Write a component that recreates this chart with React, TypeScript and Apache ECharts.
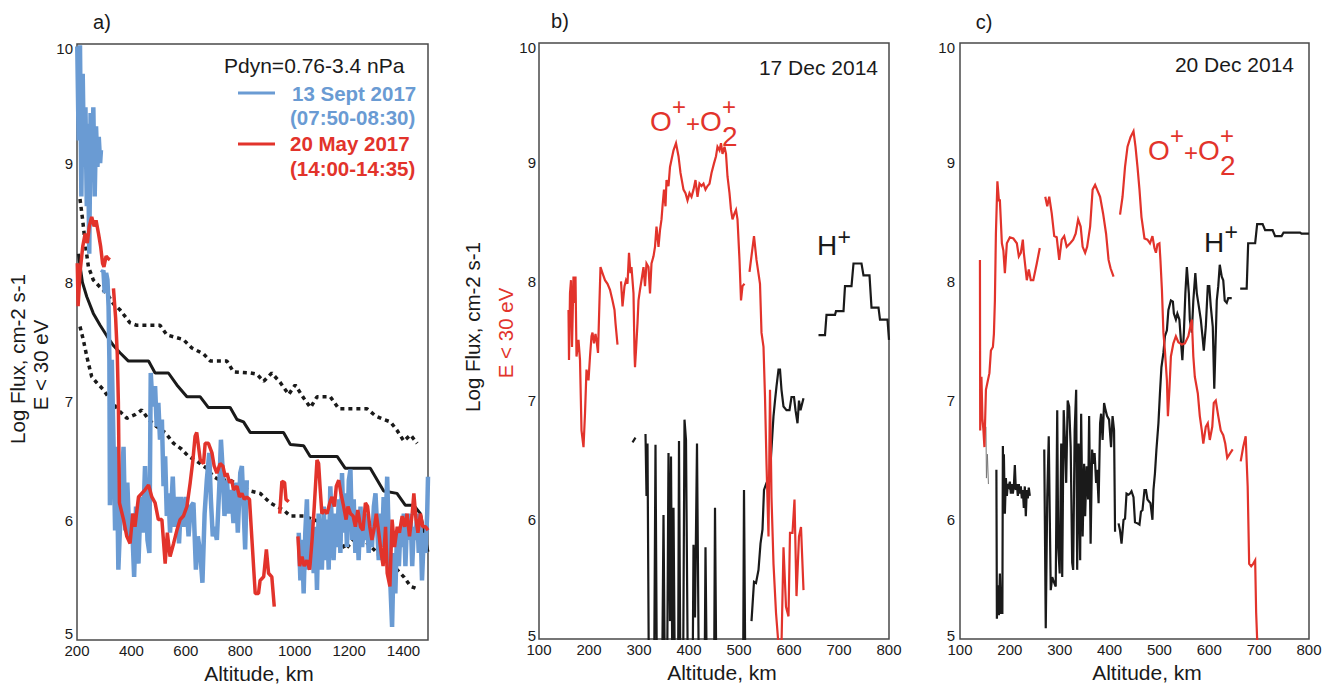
import React, { useEffect, useRef } from 'react';
import * as echarts from 'echarts';

const FONT = '"Liberation Sans", Arial, Helvetica, sans-serif';
const RED = '#e2332b';
const BLUE = '#6a9bd3';
const INK = '#1a1a1a';
const FRAME = '#4a4a4a';

// ---------- Panel a (13 Sept 2017 / 20 May 2017, statistics) ----------
const medianA = [[205,8.24],[220,8.0],[236,7.88],[260,7.74],[285,7.64],[310,7.55],[334,7.47],[358,7.41],[389,7.34],[463,7.34],[487,7.24],[536,7.24],[567,7.14],[604,7.04],[653,7.04],[683,6.95],[763,6.95],[788,6.85],[812,6.83],[837,6.74],[959,6.74],[984,6.64],[1033,6.63],[1057,6.54],[1156,6.54],[1186,6.44],[1278,6.44],[1327,6.25],[1376,6.23],[1407,6.13],[1438,6.13],[1462,6.06],[1490,5.74]];

const upperA = [[211,8.70],[221,8.52],[230,8.33],[242,8.13],[260,8.02],[285,7.96],[309,7.91],[334,7.82],[358,7.77],[395,7.66],[420,7.64],[505,7.64],[530,7.56],[591,7.52],[622,7.45],[665,7.40],[690,7.34],[751,7.34],[775,7.25],[837,7.24],[861,7.23],[886,7.17],[916,7.24],[947,7.16],[978,7.06],[1002,7.14],[1033,7.03],[1058,6.95],[1082,7.04],[1131,7.04],[1162,6.94],[1266,6.94],[1297,6.88],[1327,6.85],[1352,6.83],[1376,6.76],[1401,6.67],[1426,6.72],[1450,6.65]];

const lowerA = [[211,7.63],[223,7.52],[236,7.38],[242,7.32],[254,7.21],[272,7.16],[297,7.10],[321,7.02],[352,6.93],[383,6.86],[413,6.89],[438,6.93],[463,6.85],[493,6.79],[524,6.74],[555,6.65],[585,6.60],[610,6.54],[640,6.50],[677,6.44],[702,6.37],[726,6.34],[763,6.34],[800,6.29],[837,6.25],[873,6.23],[910,6.15],[959,6.09],[984,6.04],[1033,6.04],[1082,6.0],[1143,5.95],[1186,5.76],[1217,5.84],[1254,5.84],[1291,5.76],[1327,5.67],[1364,5.62],[1401,5.53],[1426,5.45],[1450,5.43]];

const sept13A = [[201,9.98],[206,9.19],[211,9.99],[216,8.72],[221,9.75],[226,8.97],[231,9.47],[236,8.64],[240,9.33],[245,8.24],[250,9.42],[255,8.86],[260,9.47],[265,8.72],[270,9.31],[275,8.97],[280,9.22],[285,9.00],[288,9.11],
[289,null],
[291,8.08],[297,8.10],[302,7.91],[307,8.08],[312,8.02],[316,7.80],[319,7.35],[321,6.13],[328,7.35],[334,6.68],[340,5.92],[346,6.62],[352,5.59],[361,6.12],[371,6.62],[377,5.92],[385,6.32],[393,5.84],[401,6.06],[410,5.53],[417,6.12],[426,5.64],[434,6.20],[442,5.90],[450,6.46],[459,5.84],[466,5.73],[471,7.24],[478,6.96],[487,7.13],[493,6.79],[499,6.99],[505,6.68],[512,6.85],[518,6.29],[524,6.54],[530,6.04],[536,6.23],[542,5.90],[552,6.37],[559,5.95],[567,6.20],[575,5.81],[583,6.20],[591,5.95],[601,6.20],[610,5.87],[618,6.12],[628,6.15],[637,5.59],[644,5.87],[653,5.73],[661,5.48],[669,6.06],[677,6.34],[686,6.57],[692,6.18],[699,5.87],[705,5.95],[714,5.84],[723,6.29],[729,6.68],[736,6.40],[742,6.04],[751,6.34],[759,6.06],[767,6.26],[775,5.98],[784,6.32],[791,5.90],[800,6.40],[806,6.46],[812,6.12],[818,5.76],[824,6.34],
[900,null],
[1015,5.90],[1021,5.50],[1027,5.84],[1033,5.39],[1039,5.90],[1045,6.18],[1051,5.59],[1058,6.01],[1064,5.84],[1070,5.56],[1076,5.95],[1082,5.42],[1088,6.06],[1094,5.78],[1100,5.59],[1107,6.12],[1113,5.67],[1119,6.01],[1125,5.59],[1131,6.29],[1137,5.95],[1143,5.67],[1150,6.06],[1156,5.78],[1162,6.18],[1168,5.73],[1174,6.40],[1180,5.90],[1186,6.23],[1192,5.78],[1199,6.34],[1205,6.43],[1211,5.84],[1217,6.18],[1223,5.73],[1229,6.04],[1235,5.67],[1242,6.12],[1248,5.78],[1254,5.95],[1260,5.84],[1266,6.06],[1272,5.73],[1278,5.95],[1284,5.78],[1291,6.12],[1297,6.23],[1303,5.95],[1309,5.67],[1315,6.06],[1321,5.78],[1327,6.20],[1334,5.95],[1340,6.37],[1346,5.84],[1352,5.45],[1358,5.11],[1364,5.73],[1370,5.39],[1376,5.90],[1383,5.62],[1389,5.95],[1395,5.78],[1401,6.06],[1407,5.62],[1413,6.01],[1419,5.84],[1426,6.06],[1432,5.62],[1438,5.95],[1444,5.84],[1450,6.06],[1456,5.73],[1462,6.01],[1468,5.50],[1475,5.90],[1481,5.73],[1487,6.06],[1490,6.37]];

const may20A = [[201,8.16],[204,7.80],[211,8.08],[221,8.30],[230,8.41],[238,8.33],[245,8.47],[254,8.55],[263,8.47],[270,8.52],[279,8.41],[287,8.30],[294,8.16],[299,8.13],[307,8.22],[315,8.20],[321,8.19],
[327,null],
[334,7.95],[342,7.70],[348,7.40],[352,7.00],[356,6.15],[371,6.01],[383,5.87],[395,5.81],[405,6.06],[413,5.95],[426,6.20],[438,6.23],[450,6.26],[463,6.30],[475,6.20],[487,6.15],[499,6.01],[512,6.01],[524,5.64],[532,5.90],[542,5.70],[555,5.81],[567,5.92],[579,6.01],[591,6.04],[604,6.12],[616,6.32],[626,6.51],[634,6.71],[640,6.74],[653,6.51],[665,6.48],[671,6.65],[683,6.65],[696,6.57],[704,6.46],[714,6.40],[726,6.48],[736,6.46],[745,6.37],[751,6.40],[761,6.32],[769,6.34],[775,6.26],[788,6.29],[797,6.20],[806,6.23],[815,6.18],[824,6.20],[834,6.18],[843,5.84],[855,5.39],[867,5.39],[873,5.50],[886,5.53],[896,5.76],[904,5.56],[916,5.53],[925,5.28],
[935,null],
[945,6.06],[953,6.33],[963,6.32],[968,6.18],[978,6.16],
[995,null],
[1012,5.87],[1018,5.62],[1027,5.70],[1035,5.62],[1045,5.67],[1055,5.59],[1064,5.84],[1072,6.12],[1082,6.51],[1088,6.48],[1094,6.26],[1100,6.06],[1109,6.09],[1119,6.06],[1129,6.15],[1137,6.20],[1146,6.12],[1153,6.29],[1162,6.34],[1170,6.23],[1180,6.12],[1189,6.01],[1196,6.12],[1205,6.06],[1215,6.04],[1223,5.95],[1232,6.09],[1242,5.95],[1251,5.92],[1260,6.15],[1268,6.12],[1276,5.95],[1284,5.84],[1293,5.95],[1300,6.06],[1309,5.90],[1318,5.73],[1325,5.62],[1334,5.95],[1340,5.56],[1350,5.45],[1358,6.01],[1367,5.78],[1377,5.95],[1385,5.90],[1395,6.04],[1404,5.95],[1413,6.06],[1422,5.87],[1432,6.06],[1438,6.23],[1446,6.01],[1453,5.90],[1462,6.06],[1471,5.95],[1481,5.95],[1490,5.92]];

// ---------- Panel b (17 Dec 2014) ----------
const oxygenB = [[159,7.76],[160,7.34],[162,7.90],[164,8.01],[166,7.45],[169,8.04],[171,7.82],[173,8.04],[175,7.37],[179,7.51],[182,7.34],[185,6.75],[189,6.61],[192,6.89],[195,7.26],[199,7.17],[202,7.37],[205,7.54],[207,7.57],[210,7.48],[213,7.56],[215,7.51],[218,7.40],[221,7.84],[223,8.12],[227,8.07],[232,8.01],[237,7.98],[242,7.93],[247,7.84],[251,7.76],[253,7.65],[257,7.47],
[260,null],
[264,8.00],[267,7.79],[271,7.96],[274,8.01],[277,7.98],[280,8.24],[283,8.07],[285,8.12],[289,7.90],[291,7.40],[292,7.28],[294,7.42],[297,7.65],[299,7.84],[302,7.93],[305,8.01],[309,8.12],[312,7.96],[315,8.15],[319,8.12],[322,7.90],[325,8.15],[329,8.21],[332,8.29],[335,8.46],[339,8.29],[342,8.43],[345,8.52],[347,8.63],[350,8.77],[353,8.63],[355,8.85],[359,8.80],[362,8.96],[365,9.02],[369,9.10],[374,9.16],[379,9.05],[383,8.91],[389,8.77],[393,8.74],[397,8.68],[401,8.74],[405,8.71],[409,8.77],[413,8.85],[417,8.71],[421,8.82],[425,8.80],[429,8.82],[433,8.77],[437,8.80],[441,8.82],[445,8.91],[450,8.99],[454,9.05],[457,9.13],[461,9.10],[464,9.16],[467,9.07],[471,9.13],[474,9.07],[477,8.88],[481,8.74],[484,8.60],[487,8.52],[491,8.57],[494,8.60],[497,8.52],[501,8.18],[504,7.84],[507,7.96],[511,7.98],
[516,null],
[521,8.08],[530,8.38],[535,8.18],[542,7.98],[545,7.57],[549,7.45],[552,7.03],[555,6.47],[559,5.86],[562,7.09],[565,6.19],[569,5.63],[574,5.22],[579,4.95],[585,4.95],[589,5.77],[594,5.27],[599,5.19],[602,5.89],[607,5.89],[611,6.17],[615,5.36],[620,5.86],[624,5.94],[629,5.41]];

const hydrogenB = [[287,6.65],[293,6.69],
[300,null],
[313,6.72],[315,6.20],[317,6.64],[320,4.5],[330,4.5],[333,6.63],[336,4.5],[346,4.5],[349,6.04],[352,4.5],[356,4.5],[359,6.56],[362,5.15],[364,6.53],[367,4.5],[368,4.5],[369,6.10],[372,4.5],[378,4.5],[380,6.66],[383,4.5],[388,4.5],[391,6.84],[394,6.67],[398,4.5],[407,4.5],[409,5.79],[412,5.18],[416,6.64],[420,4.5],[431,4.5],[433,5.77],[436,4.5],[450,4.5],[452,6.10],[455,4.5],[508,4.5],[510,6.25],[513,4.5],
[518,null],
[525,5.15],[530,5.48],[534,5.47],[539,5.58],[543,5.80],[547,5.92],[550,6.25],[555,6.31],[561,6.36],[564,6.53],[569,6.87],[572,7.00],[575,7.12],[579,7.26],[582,7.26],[585,7.09],[589,6.95],[595,6.92],[601,6.92],[605,7.03],[610,7.03],[613,6.92],[617,6.81],[620,7.00],[623,6.92],[629,7.02],
[645,null],
[659,7.55],[672,7.55],[675,7.72],[692,7.72],[694,7.75],[709,7.75],[712,7.96],[725,7.96],[729,8.15],[745,8.15],[749,8.05],[761,8.05],[765,7.78],[779,7.78],[782,7.68],[797,7.68],[800,7.51]];

// ---------- Panel c (20 Dec 2014) ----------
const oxygenC = [[140,8.18],[140.5,6.75],[143,7.20],[145,6.85],[147,6.75],[149,6.61],[152,7.09],[156,7.17],[159,7.23],[162,7.42],[166,7.45],[168,7.56],[170,7.84],[172,8.40],[175,8.84],[178,8.68],[180,8.68],[184,8.32],[187,8.26],[190,8.07],[194,8.32],[200,8.37],[207,8.36],[214,8.32],[218,8.21],[222,8.24],[226,8.35],[228,8.24],[234,8.01],[238,8.10],[242,8.01],[247,8.01],[254,8.15],[260,8.28],
[265,null],
[271,8.71],[275,8.63],[279,8.71],[284,8.57],[289,8.38],[294,8.37],[299,8.18],[304,8.35],[309,8.38],[314,8.29],[321,8.32],[327,8.35],[332,8.40],[337,8.52],[342,8.46],[346,8.29],[351,8.24],[355,8.29],[361,8.46],[366,8.77],[371,8.81],[375,8.77],[381,8.71],[387,8.57],[393,8.40],[398,8.18],[402,8.11],[408,8.04],
[414,null],
[421,8.56],[426,8.71],[431,8.96],[436,9.13],[442,9.21],[448,9.26],[452,9.13],[456,8.96],[460,8.77],[464,8.54],[470,8.36],[476,8.35],[481,8.32],[486,8.38],[490,8.28],[493,8.24],[496,8.31],[500,8.32],[502,8.18],[505,7.93],[508,7.57],[511,7.42],[515,7.17],[517,6.87],[520,7.09],[523,7.37],[528,7.48],[533,7.54],[538,7.49],[545,7.47],[551,7.48],[558,7.54],[565,7.68],[568,7.37],[571,7.20],[577,7.06],[581,6.87],[585,6.75],[588,6.64],[593,6.78],[597,6.81],[601,6.67],[606,6.78],[609,6.98],[613,7.00],[618,6.87],[623,6.75],[628,6.71],[632,6.64],[636,6.52],[642,6.56],[647,6.59],
[655,null],
[663,6.49],[668,6.61],[673,6.70],[677,6.28],[680,5.63],[684,5.61],[688,5.63],[692,5.66],[694,5.22],[696,5.0],[698,4.8]];

const faintC = [[152,6.78],[153,6.35],[155,6.55],[157,6.30]];

const hydrogenC = [[173,6.42],[174,5.17],[176,5.45],[178,5.20],[180,5.55],[182,5.22],[185,5.22],[186,6.62],[187,6.10],[188,6.55],[190,6.05],[192,6.35],[194,6.20],[196,6.30],[198,6.28],[200,6.32],[202,6.22],[204,6.30],[206,6.22],[208,6.28],[210,6.46],[212,6.25],[214,6.30],[216,6.20],[218,6.30],[220,6.22],[222,6.28],[224,6.18],[226,6.25],[228,6.10],[230,6.28],[232,6.03],[234,6.25],[236,6.18],[238,6.27],[240,6.20],
[255,null],
[269,6.59],[272,5.09],[275,6.19],[278,6.70],[282,5.41],[285,5.52],[289,5.47],[292,5.44],[295,6.92],[297,5.77],[300,5.55],[303,6.64],[305,5.52],[308,6.92],[311,6.61],[313,6.31],[316,7.00],[319,6.95],[322,6.61],[325,5.64],[327,5.58],[330,6.75],[333,7.09],[335,5.58],[338,6.64],[341,5.66],[343,6.89],[346,5.86],[349,6.47],[351,6.03],[354,6.45],[357,6.17],[359,6.87],[362,5.80],[365,6.59],[367,6.47],[370,6.56],[373,6.31],[375,6.42],[378,6.14],[381,6.81],[383,6.89],[386,6.67],[389,6.98],[392,6.92],[395,6.87],[399,6.84],[403,6.61],[406,6.87],[409,6.75],[411,5.90],
[414,null],
[418,5.97],[421,5.91],[424,5.80],[428,6.00],[431,6.01],[434,6.22],[438,6.21],[441,6.22],[444,6.24],[448,6.19],[451,5.98],[456,5.97],[460,5.96],[463,6.07],[466,6.08],[470,6.25],[473,6.25],[476,6.17],[480,6.15],[482,6.14],[486,6.00],[488,6.25],[491,6.39],[494,6.59],[498,6.81],[501,7.06],[504,7.28],[508,7.40],[511,7.54],[515,7.59],[518,7.76],[523,7.84],[527,7.83],[529,7.73],[533,7.68],[536,7.73],[540,7.68],[543,7.51],[546,7.34],[549,7.57],[552,7.90],[555,8.12],[559,7.90],[561,7.68],[565,7.57],[568,7.84],[572,8.07],[575,7.90],[579,7.79],[583,7.68],[587,7.51],[589,7.42],[593,7.62],[597,7.96],[600,7.96],[603,7.79],[607,7.62],[610,7.10],[615,7.84],[618,7.96],[621,8.14],[625,8.04],[628,8.01],[631,7.84],[635,7.82],[638,7.86],[645,7.86],
[652,null],
[662,7.94],[675,7.94],[678,8.32],[692,8.32],[696,8.48],[707,8.48],[712,8.43],[727,8.43],[732,8.38],[745,8.38],[749,8.41],[782,8.41],[785,8.40],[800,8.40]];

const panelLabels = ['a)', 'b)', 'c)'];
const dateLabels = ['17 Dec 2014', '20 Dec 2014'];
const legendLabels = ['Pdyn=0.76-3.4 nPa', '13 Sept 2017', '(07:50-08:30)', '20 May 2017', '(14:00-14:35)'];
const yName = 'Log Flux, cm-2 s-1';
const yName2 = 'E < 30 eV';
const xName = 'Altitude, km';

const prep = (d: (number | null)[][]) => d.map(([x, y]) => [x, y === null ? '-' : y]);

const txt = (text: string, x: number, y: number, o: any = {}) => ({
  type: 'text',
  x,
  y,
  rotation: o.rot || 0,
  silent: true,
  style: {
    text,
    fill: o.color || INK,
    fontSize: o.size || 20,
    fontFamily: FONT,
    fontWeight: o.bold ? 'bold' : 'normal',
    align: o.align || 'left',
    verticalAlign: 'middle',
  },
});

// O+ + O2+ drawn glyph by glyph, laid side by side
const ionLabel = (ox: number, oy: number) => [
  txt('O', ox, oy, { color: RED, size: 28 }),
  txt('+', ox + 22, oy - 15, { color: RED, size: 24 }),
  txt('+', ox + 36, oy + 2, { color: RED, size: 24 }),
  txt('O', ox + 50, oy, { color: RED, size: 28 }),
  txt('+', ox + 72, oy - 15, { color: RED, size: 24 }),
  txt('2', ox + 72, oy + 15, { color: RED, size: 28 }),
];

const hLabel = (hx: number, hy: number, dy: number) => [
  txt('H', hx, hy, { size: 28 }),
  txt('+', hx + 20.5, hy - dy, { size: 23 }),
];

const App: React.FC = () => {
  const ref = useRef<HTMLDivElement>(null);

  useEffect(() => {
    if (!ref.current) return;
    const chart = echarts.init(ref.current, null, { renderer: 'svg' });

    const gridBase = {
      show: true,
      borderColor: FRAME,
      borderWidth: 1.5,
      backgroundColor: 'transparent',
      containLabel: false,
      outerBoundsMode: 'none',
    };
    const labelStyle = { fontSize: 15, color: INK, fontFamily: FONT };
    const mkX = (gi: number, min: number, max: number, interval: number, gap: number, pad: number, showMax: boolean) => ({
      gridIndex: gi,
      type: 'value',
      min,
      max,
      interval,
      axisLine: { show: false },
      axisTick: { show: false },
      splitLine: { show: false },
      axisLabel: { ...labelStyle, margin: 3, showMaxLabel: showMax, showMinLabel: true, formatter: (v: number) => String(v) },
      name: xName,
      nameLocation: 'middle',
      nameGap: gap,
      nameTextStyle: { fontSize: 21, color: INK, fontFamily: FONT, padding: [0, 0, 0, pad] },
    });
    const mkY = (gi: number, margin: number, lowShift: number) => ({
      gridIndex: gi,
      type: 'value',
      min: 5,
      max: 10,
      interval: 1,
      axisLine: { show: false },
      axisTick: { show: false },
      splitLine: { show: false },
      axisLabel: {
        ...labelStyle,
        margin,
        formatter: (v: number) => (v === 10 ? '{top|10}' : v === 5 ? '{low|5}' : String(v)),
        rich: {
          top: { ...labelStyle, padding: [8, 0, 0, 0] },
          low: { ...labelStyle, padding: [0, 0, lowShift, 0] },
        },
      },
    });
    const line = (name: string, gi: number, data: any, color: string, width: number, extra: any = {}) => ({
      name,
      type: 'line',
      xAxisIndex: gi,
      yAxisIndex: gi,
      data: prep(data),
      showSymbol: false,
      symbol: 'none',
      connectNulls: false,
      clip: true,
      lineStyle: { color, width, join: 'bevel', ...extra },
      emphasis: { disabled: true },
      silent: true,
    });

    const option: any = {
      animation: false,
      backgroundColor: '#ffffff',
      textStyle: { fontFamily: FONT },
      grid: [
        { ...gridBase, left: 77, top: 44, width: 351, height: 596 },
        { ...gridBase, left: 539, top: 43, width: 350, height: 596 },
        { ...gridBase, left: 960, top: 43, width: 349, height: 596 },
      ],
      xAxis: [
        mkX(0, 200, 1490, 200, 17, 13, false),
        mkX(1, 100, 800, 100, 23, 16, true),
        mkX(2, 100, 800, 100, 23, 25, true),
      ],
      yAxis: [mkY(0, 4, 14), mkY(1, 3, 8), mkY(2, 5, 8)],
      series: [
        line('upper', 0, upperA, INK, 3.5, { type: [4, 4] }),
        line('lower', 0, lowerA, INK, 3.5, { type: [4, 4] }),
        line('median', 0, medianA, INK, 3),
        line(legendLabels[1], 0, sept13A, BLUE, 4.5),
        line(legendLabels[3], 0, may20A, RED, 3.5),
        line('H+ 17 Dec', 1, hydrogenB, INK, 2.2, { join: 'miter' }),
        line('O+ 17 Dec', 1, oxygenB, RED, 2.2, { join: 'miter' }),
        line('faint 20 Dec', 2, faintC, '#777', 1),
        line('H+ 20 Dec', 2, hydrogenC, INK, 2.2, { join: 'miter' }),
        line('O+ 20 Dec', 2, oxygenC, RED, 2.2, { join: 'miter' }),
      ],
      graphic: [
        txt(panelLabels[0], 102, 22, { align: 'center' }),
        txt(panelLabels[1], 560, 21, { align: 'center' }),
        txt(panelLabels[2], 984, 22, { align: 'center' }),
        // legend panel a
        txt(legendLabels[0], 224, 65, { size: 21 }),
        { type: 'line', silent: true, shape: { x1: 238, y1: 93, x2: 275, y2: 93 }, style: { stroke: BLUE, lineWidth: 3 } },
        txt(legendLabels[1], 292, 93, { color: BLUE, size: 20.5, bold: true }),
        txt(legendLabels[2], 290, 117, { color: BLUE, size: 20.5, bold: true }),
        { type: 'line', silent: true, shape: { x1: 238, y1: 144, x2: 275, y2: 144 }, style: { stroke: RED, lineWidth: 3 } },
        txt(legendLabels[3], 290, 143, { color: RED, size: 20.5, bold: true }),
        txt(legendLabels[4], 290, 168, { color: RED, size: 20.5, bold: true }),
        // y axis names
        txt(yName, 17, 359, { rot: Math.PI / 2, align: 'center', size: 20.5 }),
        txt(yName2, 40, 365, { rot: Math.PI / 2, align: 'center', size: 20.5 }),
        txt(yName, 472, 327, { rot: Math.PI / 2, align: 'center', size: 20.5 }),
        txt(yName2, 505, 333, { rot: Math.PI / 2, align: 'center', size: 20.5, color: RED }),
        // dates
        txt(dateLabels[0], 878, 67, { align: 'right', size: 21 }),
        txt(dateLabels[1], 1294, 64, { align: 'right', size: 21 }),
        // ion labels
        ...ionLabel(650, 121),
        ...ionLabel(1148, 150),
        ...hLabel(817, 245, 8),
        ...hLabel(1204, 242, 10),
      ],
    };

    chart.setOption(option);
    return () => chart.dispose();
  }, []);

  return (
    <div
      ref={ref}
      style={{ position: 'fixed', left: 0, top: 0, width: 1336, height: 685, background: '#fff' }}
    />
  );
};

export default App;
